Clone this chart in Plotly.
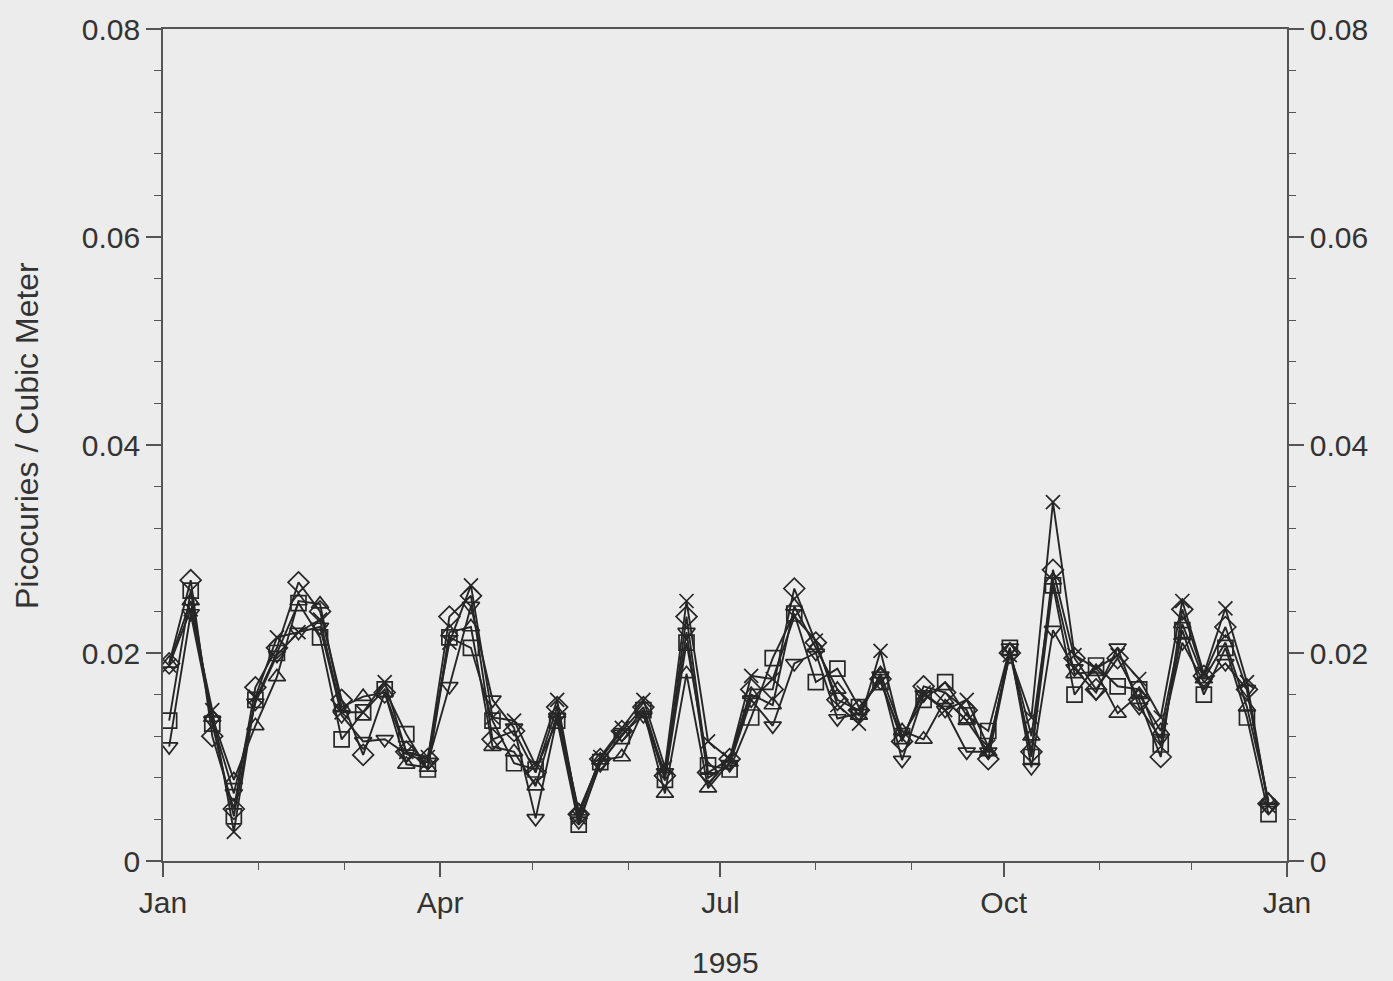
import plotly.graph_objects as go

dates = ["1995-01-03", "1995-01-10", "1995-01-17", "1995-01-24", "1995-01-31",
         "1995-02-07", "1995-02-14", "1995-02-21", "1995-02-28",
         "1995-03-07", "1995-03-14", "1995-03-21", "1995-03-28",
         "1995-04-04", "1995-04-11", "1995-04-18", "1995-04-25",
         "1995-05-02", "1995-05-09", "1995-05-16", "1995-05-23", "1995-05-30",
         "1995-06-06", "1995-06-13", "1995-06-20", "1995-06-27",
         "1995-07-04", "1995-07-11", "1995-07-18", "1995-07-25",
         "1995-08-01", "1995-08-08", "1995-08-15", "1995-08-22", "1995-08-29",
         "1995-09-05", "1995-09-12", "1995-09-19", "1995-09-26",
         "1995-10-03", "1995-10-10", "1995-10-17", "1995-10-24", "1995-10-31",
         "1995-11-07", "1995-11-14", "1995-11-21", "1995-11-28",
         "1995-12-05", "1995-12-12", "1995-12-19", "1995-12-26"]

s_diamond = [0.0190, 0.0270, 0.0120, 0.0050, 0.0167, 0.0205, 0.0268, 0.0240, 0.0155, 0.0102,
             0.0162, 0.0105, 0.0098, 0.0235, 0.0255, 0.0117, 0.0125, 0.0085, 0.0148, 0.0045,
             0.0098, 0.0125, 0.0148, 0.0082, 0.0235, 0.0085, 0.0098, 0.0165, 0.0165, 0.0262,
             0.0210, 0.0155, 0.0145, 0.0175, 0.0115, 0.0168, 0.0162, 0.0145, 0.0098, 0.0200,
             0.0105, 0.0280, 0.0195, 0.0165, 0.0195, 0.0155, 0.0100, 0.0242, 0.0178, 0.0225,
             0.0165, 0.0055]

s_square = [0.0135, 0.0260, 0.0132, 0.0043, 0.0155, 0.0200, 0.0248, 0.0215, 0.0117, 0.0143,
            0.0165, 0.0122, 0.0088, 0.0215, 0.0205, 0.0135, 0.0094, 0.0088, 0.0135, 0.0035,
            0.0095, 0.0120, 0.0145, 0.0078, 0.0210, 0.0092, 0.0088, 0.0138, 0.0195, 0.0238,
            0.0172, 0.0185, 0.0148, 0.0172, 0.0120, 0.0155, 0.0172, 0.0140, 0.0125, 0.0205,
            0.0100, 0.0265, 0.0160, 0.0188, 0.0168, 0.0165, 0.0112, 0.0222, 0.0160, 0.0205,
            0.0138, 0.0045]

s_tri_up = [0.0190, 0.0250, 0.0138, 0.0078, 0.0130, 0.0177, 0.0250, 0.0247, 0.0148, 0.0158,
            0.0162, 0.0093, 0.0090, 0.0220, 0.0225, 0.0110, 0.0105, 0.0072, 0.0142, 0.0048,
            0.0097, 0.0100, 0.0145, 0.0065, 0.0180, 0.0070, 0.0095, 0.0160, 0.0150, 0.0245,
            0.0205, 0.0165, 0.0140, 0.0180, 0.0125, 0.0117, 0.0155, 0.0135, 0.0105, 0.0202,
            0.0120, 0.0270, 0.0180, 0.0182, 0.0142, 0.0160, 0.0125, 0.0228, 0.0175, 0.0210,
            0.0148, 0.0058]

s_tri_down = [0.0110, 0.0238, 0.0135, 0.0065, 0.0152, 0.0198, 0.0220, 0.0225, 0.0140, 0.0115,
              0.0117, 0.0103, 0.0095, 0.0168, 0.0245, 0.0155, 0.0128, 0.0041, 0.0138, 0.0038,
              0.0093, 0.0122, 0.0140, 0.0085, 0.0220, 0.0080, 0.0093, 0.0155, 0.0130, 0.0190,
              0.0200, 0.0137, 0.0142, 0.0178, 0.0097, 0.0160, 0.0145, 0.0105, 0.0105, 0.0205,
              0.0090, 0.0222, 0.0185, 0.0162, 0.0205, 0.0148, 0.0118, 0.0210, 0.0172, 0.0190,
              0.0165, 0.0052]

s_cross = [0.0188, 0.0242, 0.0145, 0.0028, 0.0158, 0.0215, 0.0220, 0.0232, 0.0143, 0.0143,
           0.0172, 0.0105, 0.0100, 0.0210, 0.0265, 0.0138, 0.0135, 0.0092, 0.0155, 0.0042,
           0.0100, 0.0128, 0.0155, 0.0090, 0.0250, 0.0115, 0.0098, 0.0178, 0.0175, 0.0235,
           0.0212, 0.0150, 0.0132, 0.0202, 0.0118, 0.0162, 0.0145, 0.0155, 0.0110, 0.0198,
           0.0138, 0.0345, 0.0198, 0.0185, 0.0198, 0.0175, 0.0138, 0.0250, 0.0180, 0.0243,
           0.0172, 0.0053]

series = [
    ("Diamond", s_diamond, "diamond-open", 16),
    ("Square", s_square, "square-open", 15),
    ("Triangle up", s_tri_up, "triangle-up-open", 15),
    ("Triangle down", s_tri_down, "triangle-down-open", 15),
    ("Cross", s_cross, "x-thin-open", 14),
]

y_ticks = [0, 0.02, 0.04, 0.06, 0.08]
y_ticktext = ["0", "0.02", "0.04", "0.06", "0.08"]
x_ticks = ["1995-01-01", "1995-04-01", "1995-07-01", "1995-10-01", "1996-01-01"]
x_ticktext = ["Jan", "Apr", "Jul", "Oct", "Jan"]

ink = "#262626"
bg = "#ececec"
font_family = "Liberation Sans, Arial, sans-serif"
text_col = "#333333"

fig = go.Figure()
for name, vals, sym, size in series:
    fig.add_trace(go.Scatter(
        x=dates, y=vals, name=name, mode="lines+markers",
        line=dict(color=ink, width=1.9),
        marker=dict(symbol=sym, size=size, color=ink, line=dict(color=ink, width=1.7)),
        showlegend=False,
    ))

# empty trace so the right-hand axis is drawn
fig.add_trace(go.Scatter(x=[], y=[], yaxis="y2", showlegend=False, hoverinfo="skip"))

tickfont = dict(family=font_family, size=30, color=text_col)

fig.update_layout(
    width=1393, height=981,
    margin=dict(l=163, r=106, t=23, b=120),
    paper_bgcolor=bg, plot_bgcolor=bg,
    font=dict(family=font_family, color=text_col),
    xaxis=dict(
        type="date", range=["1995-01-01", "1996-01-01"],
        tickmode="array", tickvals=x_ticks, ticktext=x_ticktext,
        ticks="outside", ticklen=14, tickwidth=1.6, tickcolor="#555",
        showline=True, linecolor="#555", linewidth=1.6, mirror=True,
        showgrid=False, zeroline=False, tickfont=tickfont,
        minor=dict(dtick="M1", tick0="1995-01-01", ticks="outside", ticklen=7,
                   tickwidth=1.3, tickcolor="#555", showgrid=False),
    ),
    yaxis=dict(
        range=[0, 0.08], tickmode="array", tickvals=y_ticks, ticktext=y_ticktext,
        ticks="outside", ticklen=15, tickwidth=1.6, tickcolor="#555",
        showline=True, linecolor="#555", linewidth=1.6,
        showgrid=False, zeroline=False, tickfont=tickfont,
        minor=dict(dtick=0.004, tick0=0, ticks="outside", ticklen=7,
                   tickwidth=1.3, tickcolor="#555", showgrid=False),
    ),
    yaxis2=dict(
        overlaying="y", side="right", range=[0, 0.08],
        tickmode="array", tickvals=y_ticks, ticktext=y_ticktext,
        ticks="outside", ticklen=15, tickwidth=1.6, tickcolor="#555",
        showline=True, linecolor="#555", linewidth=1.6,
        showgrid=False, zeroline=False, tickfont=tickfont,
        minor=dict(dtick=0.004, tick0=0, ticks="outside", ticklen=7,
                   tickwidth=1.3, tickcolor="#555", showgrid=False),
    ),
    annotations=[
        dict(text="Picocuries / Cubic Meter", xref="paper", yref="paper",
             x=-0.121, y=0.512, textangle=-90, showarrow=False,
             xanchor="center", yanchor="middle",
             font=dict(family=font_family, size=32, color=text_col)),
        dict(text="1995", xref="paper", yref="paper",
             x=0.5, y=-0.122, showarrow=False,
             xanchor="center", yanchor="middle",
             font=dict(family=font_family, size=30, color=text_col)),
    ],
)

fig.write_html("out.html")
